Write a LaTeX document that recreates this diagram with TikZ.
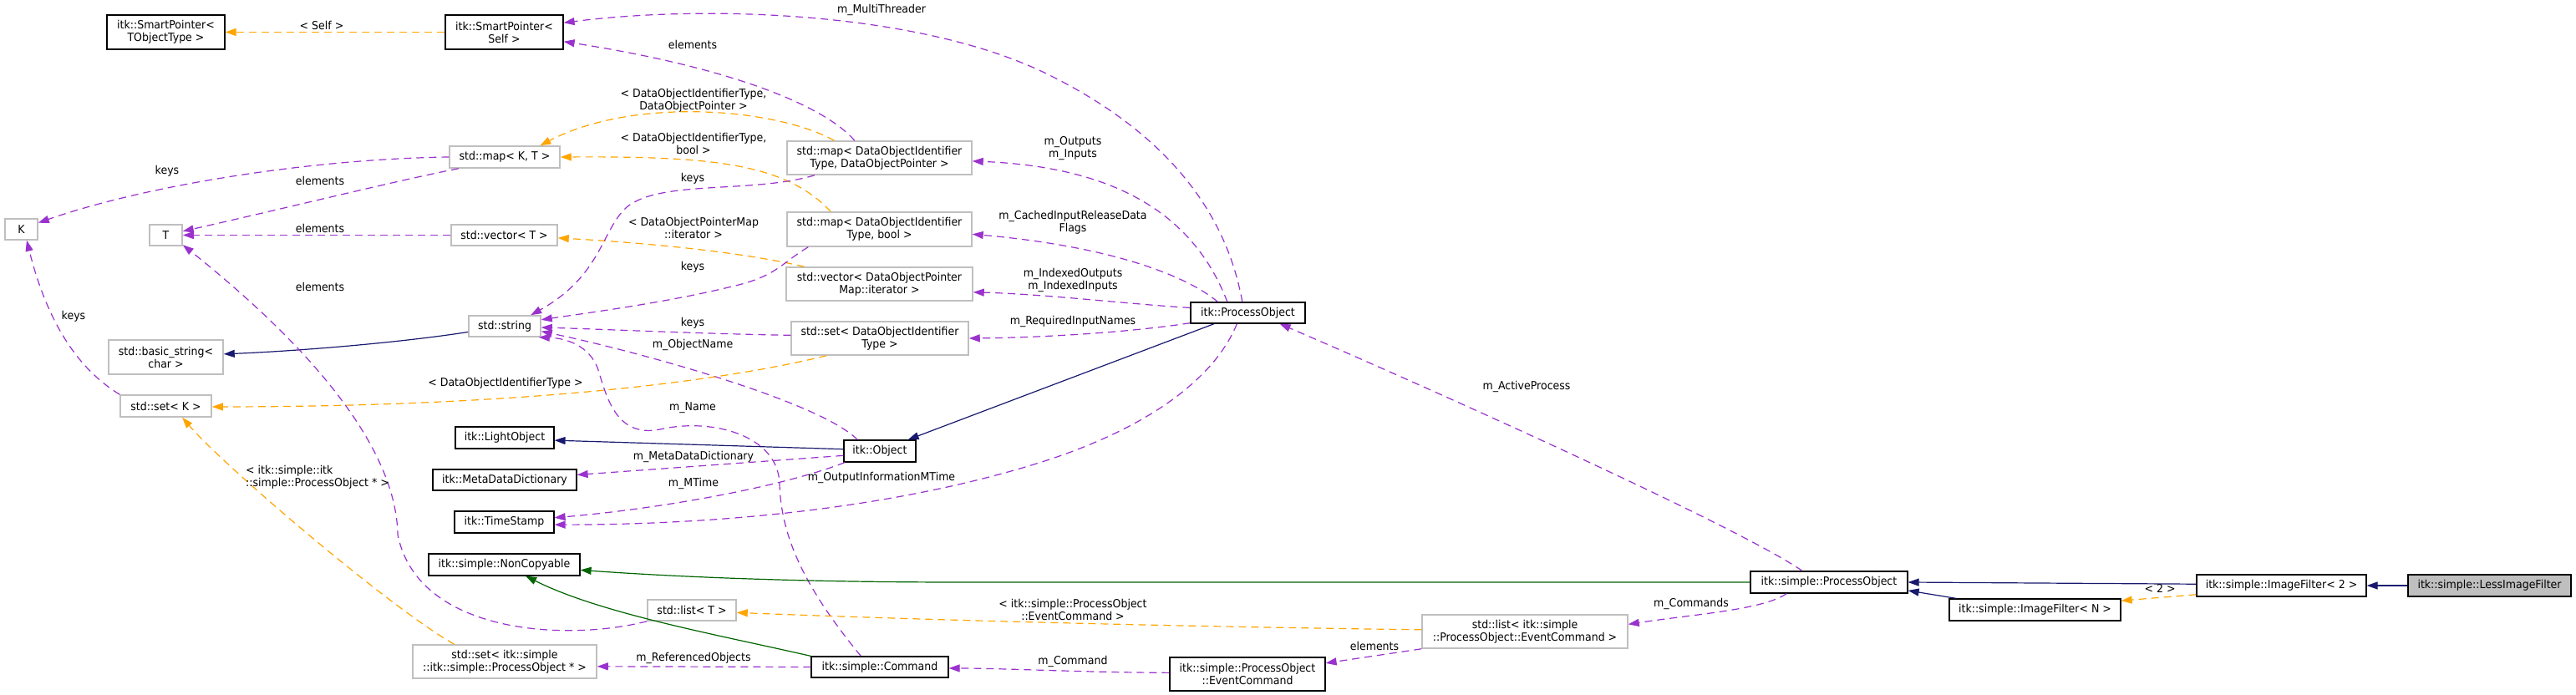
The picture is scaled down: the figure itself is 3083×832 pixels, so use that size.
\documentclass[tikz,border=0pt]{standalone}
\usepackage{fontspec}
\setmainfont{DejaVu Sans}[FakeStretch=0.93]
\usetikzlibrary{arrows.meta,calc}
\definecolor{usecol}{HTML}{9A32CD}
\definecolor{tplcol}{HTML}{FFA500}
\definecolor{inhcol}{HTML}{191970}
\definecolor{protcol}{HTML}{006400}
\definecolor{grayb}{HTML}{BFBFBF}
\begin{document}
\begin{tikzpicture}[x=1pt,y=-1pt,
  every node/.style={font=\fontsize{13.5}{15}\selectfont, inner sep=0pt, align=center},
  cls/.style={draw=black, line width=1.2pt, fill=white},
  ext/.style={draw=grayb, line width=1.5pt, fill=white},
  tip/.style={-{Triangle[length=13pt,width=9pt]}},
  use/.style={tip, draw=usecol, fill=none, line width=1.2pt, dash pattern=on 9pt off 6pt},
  tpl/.style={tip, draw=tplcol, line width=1.2pt, dash pattern=on 9pt off 6pt},
  inh/.style={tip, draw=inhcol, line width=1.2pt},
  prot/.style={tip, draw=protcol, line width=1.2pt}]
\fill[white] (0,0) rectangle (3083,832);
\useasboundingbox (0,0) rectangle (3083,832);

% nodes
\node[cls, minimum width=141pt, minimum height=41pt] (spT) at (198.5,38.5) {itk::SmartPointer<\\TObjectType >};
\node[cls, minimum width=141pt, minimum height=41pt] (spS) at (603.5,38.5) {itk::SmartPointer<\\Self >};
\node[ext, minimum width=132pt, minimum height=26pt] (mapKT) at (604,188) {std::map< K, T >};
\node[ext, minimum width=39pt, minimum height=25pt] (K) at (25.5,274.5) {K};
\node[ext, minimum width=39pt, minimum height=25pt] (T) at (198.5,281.5) {T};
\node[ext, minimum width=127pt, minimum height=25pt] (vecT) at (603.5,281.5) {std::vector< T >};
\node[ext, minimum width=86pt, minimum height=25pt] (str) at (604,390.5) {std::string};
\node[ext, minimum width=137pt, minimum height=41pt] (bstr) at (198.5,427.5) {std::basic\_string<\\char >};
\node[ext, minimum width=109pt, minimum height=26pt] (setK) at (198.5,486) {std::set< K >};
\node[cls, minimum width=118pt, minimum height=26pt] (light) at (604,524) {itk::LightObject};
\node[cls, minimum width=172pt, minimum height=25pt] (mdd) at (604,574.5) {itk::MetaDataDictionary};
\node[cls, minimum width=119pt, minimum height=26pt] (ts) at (603.5,625) {itk::TimeStamp};
\node[cls, minimum width=181pt, minimum height=26pt] (nonc) at (603.5,676) {itk::simple::NonCopyable};
\node[ext, minimum width=220pt, minimum height=40pt] (setPO) at (604,792) {std::set< itk::simple\\::itk::simple::ProcessObject * >};
\node[ext, minimum width=221pt, minimum height=40pt] (mapDD) at (1052.5,189) {std::map< DataObjectIdentifier\\Type, DataObjectPointer >};
\node[ext, minimum width=221pt, minimum height=41pt] (mapDB) at (1052.5,274.5) {std::map< DataObjectIdentifier\\Type, bool >};
\node[ext, minimum width=223pt, minimum height=40pt] (vecDP) at (1052.5,340) {std::vector< DataObjectPointer\\Map::iterator >};
\node[ext, minimum width=212pt, minimum height=40pt] (setDI) at (1053,405) {std::set< DataObjectIdentifier\\Type >};
\node[cls, minimum width=86pt, minimum height=26pt] (obj) at (1053,540) {itk::Object};
\node[ext, minimum width=106pt, minimum height=25pt] (listT) at (828,730.5) {std::list< T >};
\node[cls, minimum width=164pt, minimum height=25pt] (cmd) at (1053,798.5) {itk::simple::Command};
\node[cls, minimum width=137pt, minimum height=25pt] (PO) at (1493.5,374.5) {itk::ProcessObject};
\node[cls, minimum width=186pt, minimum height=40pt] (EC) at (1493,807) {itk::simple::ProcessObject\\::EventCommand};
\node[ext, minimum width=246pt, minimum height=40pt] (listEC) at (1825,756) {std::list< itk::simple\\::ProcessObject::EventCommand >};
\node[cls, minimum width=188pt, minimum height=26pt] (sPO) at (2189,697) {itk::simple::ProcessObject};
\node[cls, minimum width=205pt, minimum height=26pt] (IFN) at (2435.5,730) {itk::simple::ImageFilter< N >};
\node[cls, minimum width=203pt, minimum height=26pt] (IF2) at (2730.5,701) {itk::simple::ImageFilter< 2 >};
\node[draw=black, line width=1.2pt, fill=grayb, minimum width=195pt, minimum height=26pt] (LIF) at (2979.5,701) {itk::simple::LessImageFilter};

% edges
\draw[tpl] (spS.west) -- (spT.east);
\draw[use] (PO.117) .. controls (1465,240) and (1380,150) .. (1250,87) .. controls (1100,15) and (850,5) .. (spS.9);
\draw[use] (mapDD.145) .. controls (985,125) and (870,80) .. (spS.-9);
\draw[tpl] (mapDD.159) .. controls (930,130) and (760,115) .. (mapKT.18);
\draw[tpl] (mapDB.160) .. controls (940,195) and (850,187) .. (mapKT.east);
\draw[use] (mapKT.west) .. controls (380,190) and (180,220) .. (K.21);
\draw[use] (mapKT.194) .. controls (480,215) and (330,252) .. (T.13);
\draw[use] (vecT.west) -- (T.east);
\draw[tpl] (vecDP.167) .. controls (880,300) and (760,290) .. (vecT.-3);
\draw[use] (mapDD.195) .. controls (900,232) and (790,215) .. (750,248) .. controls (720,275) and (720,330) .. (str.23);
\draw[use] (mapDB.194) .. controls (935,315) and (930,330) .. (880,342) .. controls (800,362) and (700,375) .. (str.10);
\draw[use] (setDI.178) .. controls (850,400) and (720,394) .. (str.-2);
\draw[use] (obj.153) .. controls (980,480) and (760,420) .. (str.-8);
\draw[use] (cmd.150) .. controls (960,700) and (935,640) .. (933,580) .. controls (932,520) and (850,500) .. (790,514) .. controls (735,525) and (725,470) .. (715,440) .. controls (705,415) and (680,405) .. (str.-18);
\draw[inh] (str.189) .. controls (480,410) and (360,420) .. (bstr.3);
\draw[tpl] (setDI.198) .. controls (850,460) and (600,487) .. (setK.-1);
\draw[use] (setK.166) .. controls (90,440) and (55,380) .. (K.-64);
\draw[tpl] (setPO.161) .. controls (470,730) and (270,560) .. (setK.-35);
\draw[use] (listT.south west) .. controls (680,768) and (500,760) .. (476,640) .. controls (475,580) and (440,470) .. (T.-30);
\draw[inh] (obj.177) -- (light.-3);
\draw[use] (obj.187) -- (mdd.4);
\draw[use] (obj.198) .. controls (930,585) and (780,610) .. (ts.5);
\draw[use] (PO.225) .. controls (1455,450) and (1380,510) .. (1250,552) .. controls (1100,600) and (900,628) .. (ts.-3);
\draw[inh] (PO.198) -- (obj.22);
\draw[use] (PO.152) .. controls (1430,260) and (1340,200) .. (mapDD.-2);
\draw[use] (PO.160) .. controls (1420,330) and (1330,295) .. (mapDB.-3);
\draw[use] (PO.175) .. controls (1350,364) and (1250,352) .. (vecDP.-5);
\draw[use] (PO.190) .. controls (1350,398) and (1250,404) .. (setDI.east);
\draw[use] (sPO.157) .. controls (2080,630) and (1700,460) .. (PO.-19);
\draw[prot] (sPO.west) -- (1150,697) .. controls (950,697) and (800,690) .. (nonc.-4);
\draw[prot] (cmd.north west) .. controls (860,760) and (720,735) .. (nonc.-28);
\draw[use] (sPO.195) .. controls (2110,730) and (2030,735) .. (listEC.4);
\draw[tpl] (listEC.179) .. controls (1400,750) and (1100,742) .. (listT.-3);
\draw[use] (listEC.south west) -- (EC.8);
\draw[use] (EC.179) .. controls (1300,805) and (1200,800) .. (cmd.-1);
\draw[use] (cmd.west) -- (setPO.-3);
\draw[inh] ($(IFN.north west)+(9,0)$) -- (sPO.-6);
\draw[inh] (IF2.179) -- (sPO.east);
\draw[tpl] (IF2.186) -- (IFN.6);
\draw[inh] (LIF.west) -- (IF2.east);

% labels
\node (l1) at (385,30) {< Self >};
\node (l2) at (1055,12) {m\_MultiThreader};
\node (l3) at (829,53) {elements};
\node (l4) at (830,120) {< DataObjectIdentifierType,\\DataObjectPointer >};
\node (l5) at (830,172) {< DataObjectIdentifierType,\\bool >};
\node (l6) at (829,214) {keys};
\node (l7) at (830,273) {< DataObjectPointerMap\\::iterator >};
\node (l8) at (829,320) {keys};
\node (l9) at (829,387) {keys};
\node (l10) at (829,413) {m\_ObjectName};
\node (l11) at (605,459) {< DataObjectIdentifierType >};
\node (l12) at (829,488) {m\_Name};
\node (l13) at (830,547) {m\_MetaDataDictionary};
\node (l14) at (830,579) {m\_MTime};
\node (l15) at (1055,572) {m\_OutputInformationMTime};
\node[align=left, anchor=west] (l16) at (294,571) {< itk::simple::itk\\::simple::ProcessObject * >};
\node (l17) at (830,788) {m\_ReferencedObjects};
\node (l18) at (200,205) {keys};
\node (l19) at (383,216) {elements};
\node (l20) at (383,273) {elements};
\node (l21) at (383,343) {elements};
\node (l22) at (88,379) {keys};
\node (l23) at (1284,178) {m\_Outputs\\m\_Inputs};
\node (l24) at (1284,266) {m\_CachedInputReleaseData\\Flags};
\node (l25) at (1284,335) {m\_IndexedOutputs\\m\_IndexedInputs};
\node (l26) at (1284,385) {m\_RequiredInputNames};
\node (l27) at (1827,463) {m\_ActiveProcess};
\node (l28) at (1284,730) {< itk::simple::ProcessObject\\::EventCommand >};
\node (l29) at (2024,723) {m\_Commands};
\node (l30) at (1645,773) {elements};
\node (l31) at (1284,792) {m\_Command};
\node (l32) at (2585,704) {< 2 >};
\end{tikzpicture}
\end{document}
